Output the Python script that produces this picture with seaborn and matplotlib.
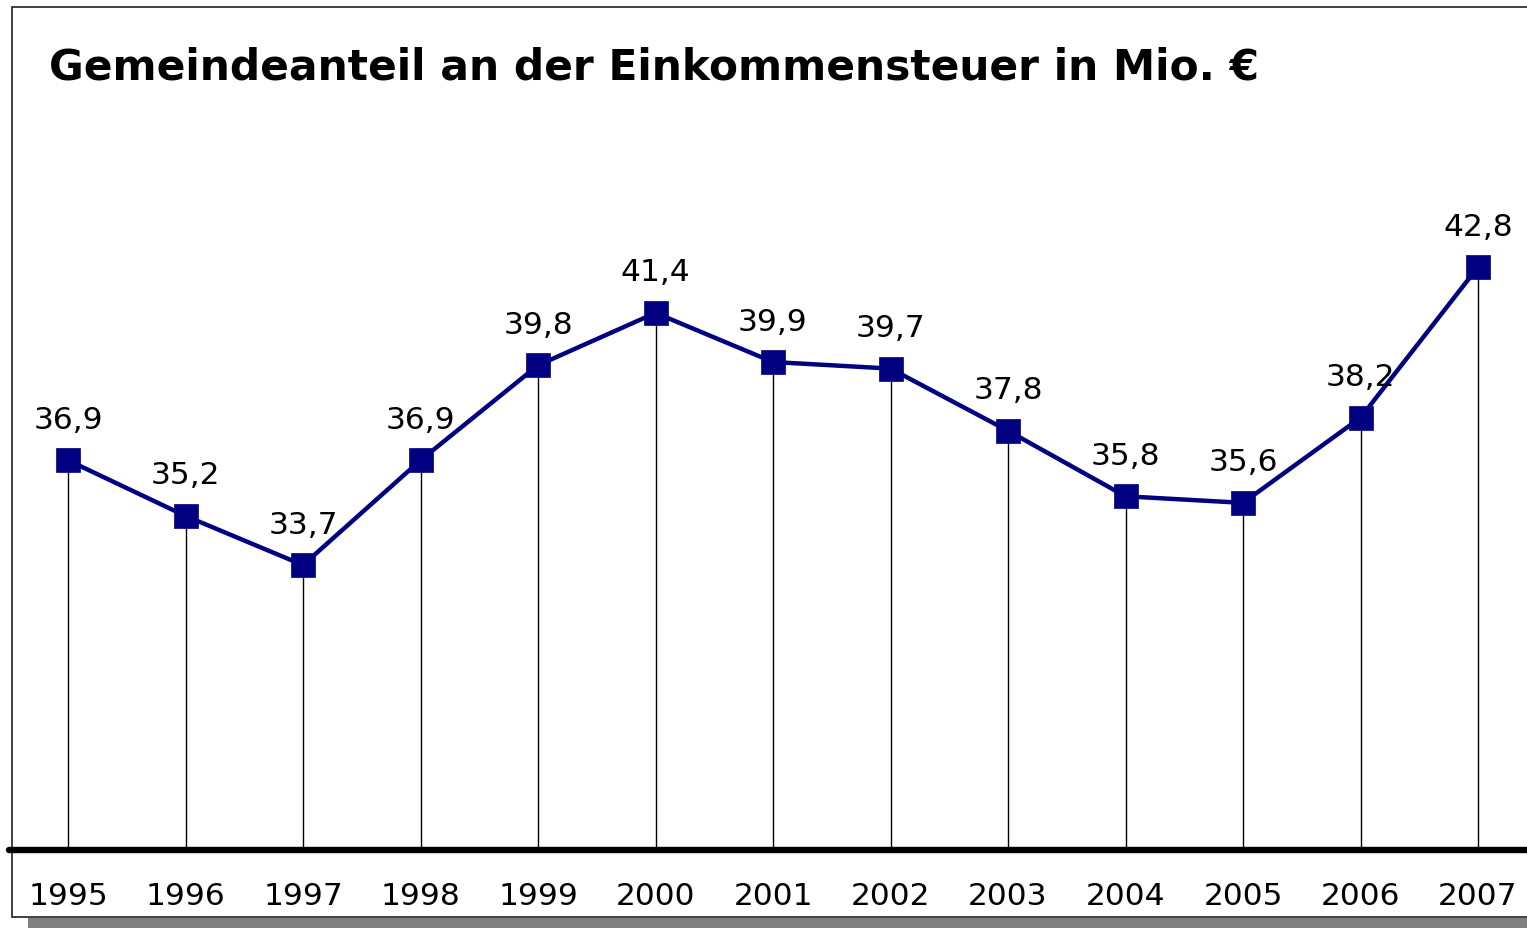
import matplotlib
matplotlib.use("Agg")
import matplotlib.pyplot as plt
import seaborn as sns
import pandas as pd
from matplotlib.patches import Rectangle

years = [1995, 1996, 1997, 1998, 1999, 2000, 2001, 2002, 2003, 2004, 2005, 2006, 2007]
values = [36.9, 35.2, 33.7, 36.9, 39.8, 41.4, 39.9, 39.7, 37.8, 35.8, 35.6, 38.2, 42.8]
labels = ["36,9", "35,2", "33,7", "36,9", "39,8", "41,4", "39,9", "39,7", "37,8", "35,8", "35,6", "38,2", "42,8"]
year_labels = [str(y) for y in years]
title = "Gemeindeanteil an der Einkommensteuer in Mio. €"

sns.set_style("white")
plt.rcParams['font.family'] = ['DejaVu Sans']

W, H = 1527, 929
fig = plt.figure(figsize=(W / 100, H / 100), dpi=100)
fig.patch.set_facecolor("white")

# frame shadow and frame
fig.patches.append(Rectangle((28 / W, 0), (W - 28) / W + 0.01, (929 - 919) / H,
                             transform=fig.transFigure, facecolor="#808080",
                             edgecolor="none", zorder=0))
fig.patches.append(Rectangle((12 / W, (H - 918) / H), (W - 12) / W + 0.01, (918 - 8) / H,
                             transform=fig.transFigure, facecolor="white",
                             edgecolor="#202020", linewidth=1.2, zorder=1))

ax = fig.add_axes([12 / W, (H - 851) / H, (W - 12) / W, (851 - 196) / H])
ax.set_facecolor("none")
ax.set_zorder(2)

df = pd.DataFrame({"Jahr": years, "Wert": values})

ax.vlines(df["Jahr"], 25, df["Wert"], color="black", linewidth=1.0, zorder=1)
sns.lineplot(data=df, x="Jahr", y="Wert", ax=ax, color="#000080", linewidth=3.2,
             marker="s", markersize=17.5, markeredgecolor="#000080",
             markeredgewidth=0.5, zorder=3)

for x, v, t in zip(years, values, labels):
    ax.annotate(t, (x, v), xytext=(0, 29.5), textcoords="offset points",
                ha="center", va="center", fontsize=22.5, color="black", zorder=4)

ax.axhline(25, color="black", linewidth=4.6, solid_capstyle="round",
           xmin=-0.002, xmax=1.01, clip_on=False, zorder=5)

ax.set_xlim(1995 - 56 / 117.5, 2007 + 49 / 117.5)
ax.set_ylim(25, 45)
ax.set_xticks(years)
ax.set_xticklabels(year_labels, fontsize=22.5, color="black")
ax.tick_params(axis="x", length=0, pad=22.5)
ax.set_yticks([])
ax.set_xlabel("")
ax.set_ylabel("")
for s in ax.spines.values():
    s.set_visible(False)

fig.text(49 / W, 1 - 67.5 / H, title, fontsize=30.5, fontweight="bold",
         ha="left", va="center", color="black")

fig.savefig("out.png", dpi=100)
